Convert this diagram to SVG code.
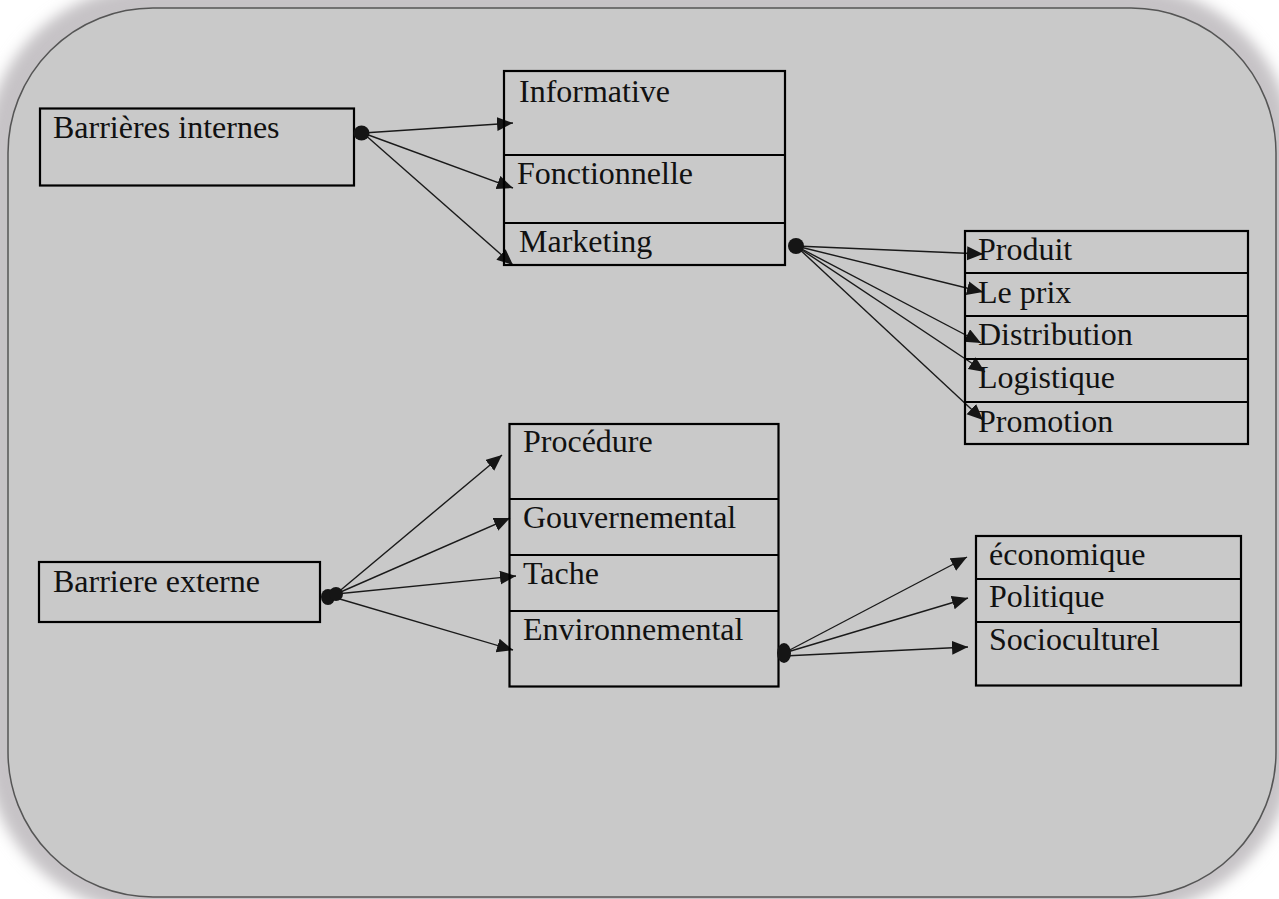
<svg xmlns="http://www.w3.org/2000/svg" width="1279" height="899" viewBox="0 0 1279 899">
<style>
.box{fill:none;stroke:#000;stroke-width:2.2}
.t{font-family:"Liberation Serif","Times New Roman",serif;font-size:32px;fill:#111}
.c{stroke:#1a1a1a;stroke-width:1.4;fill:none;marker-end:url(#ah)}
.dot{fill:#151515}
</style>
<defs>
<filter id="blur" x="-10%" y="-10%" width="120%" height="120%"><feGaussianBlur stdDeviation="7"/></filter>
<marker id="ah" markerUnits="userSpaceOnUse" markerWidth="18" markerHeight="16" refX="16" refY="7" orient="auto">
<path d="M0,0 L16,7 L0,14 Z" fill="#151515"/>
</marker>
</defs>
<rect x="0" y="0" width="1279" height="899" fill="#fff"/>
<rect x="-14" y="-14" width="1307" height="927" rx="165" fill="#c6c3c6" filter="url(#blur)"/>
<rect x="8" y="8" width="1268" height="889" rx="145" fill="#c9c9c9" stroke="#555" stroke-width="1.5"/>

<g id="connectors">
<path class="c" d="M363,133 L513,123"/>
<path class="c" d="M363,133 L513,188"/>
<path class="c" d="M363,133 L513,265"/>
<path class="c" d="M796,246 L983,254"/>
<path class="c" d="M796,246 L983,292"/>
<path class="c" d="M796,246 L981,343"/>
<path class="c" d="M796,246 L985,372"/>
<path class="c" d="M796,246 L983,420"/>
<path class="c" d="M336,594 L502,455"/>
<path class="c" d="M336,594 L510,518"/>
<path class="c" d="M336,594 L516,576"/>
<path class="c" d="M333,597 L513,650"/>
<path class="c" d="M784,653 L967,557"/>
<path class="c" d="M784,653 L968,598"/>
<path class="c" d="M784,656 L968,647"/>
</g>

<g id="barrieres-internes">
<rect class="box" x="40" y="108.5" width="314" height="77"/>
<text class="t" x="53" y="138">Barrières internes</text>
<ellipse class="dot" cx="361.5" cy="133" rx="8" ry="7.5"/>
</g>

<g id="interne-types">
<rect class="box" x="504" y="71" width="281" height="194"/>
<line class="box" x1="504" y1="155" x2="785" y2="155"/>
<line class="box" x1="504" y1="223" x2="785" y2="223"/>
<text class="t" x="519" y="101.5">Informative</text>
<text class="t" x="517" y="184">Fonctionnelle</text>
<text class="t" x="519" y="252">Marketing</text>
<ellipse class="dot" cx="796" cy="246" rx="8" ry="8"/>
</g>

<g id="marketing-mix">
<rect class="box" x="965" y="231" width="283" height="213"/>
<line class="box" x1="965" y1="273" x2="1248" y2="273"/>
<line class="box" x1="965" y1="316" x2="1248" y2="316"/>
<line class="box" x1="965" y1="359" x2="1248" y2="359"/>
<line class="box" x1="965" y1="402" x2="1248" y2="402"/>
<text class="t" x="978" y="260">Produit</text>
<text class="t" x="978" y="303">Le prix</text>
<text class="t" x="978" y="345">Distribution</text>
<text class="t" x="978" y="388">Logistique</text>
<text class="t" x="978" y="431.5">Promotion</text>
</g>

<g id="barriere-externe">
<rect class="box" x="39" y="562" width="281" height="60"/>
<text class="t" x="53" y="592">Barriere externe</text>
<ellipse class="dot" cx="328" cy="597" rx="7" ry="8"/>
<ellipse class="dot" cx="336" cy="594" rx="7" ry="7"/>
</g>

<g id="externe-types">
<rect class="box" x="509.5" y="424" width="269" height="262.5"/>
<line class="box" x1="509.5" y1="499" x2="778.5" y2="499"/>
<line class="box" x1="509.5" y1="555" x2="778.5" y2="555"/>
<line class="box" x1="509.5" y1="611" x2="778.5" y2="611"/>
<text class="t" x="523" y="452">Procédure</text>
<text class="t" x="523" y="528">Gouvernemental</text>
<text class="t" x="523" y="584">Tache</text>
<text class="t" x="523" y="640">Environnemental</text>
<ellipse class="dot" cx="784" cy="653" rx="7" ry="10"/>
</g>

<g id="environnement">
<rect class="box" x="976" y="536" width="265" height="149.5"/>
<line class="box" x1="976" y1="579" x2="1241" y2="579"/>
<line class="box" x1="976" y1="622" x2="1241" y2="622"/>
<text class="t" x="989" y="565">économique</text>
<text class="t" x="989" y="607">Politique</text>
<text class="t" x="989" y="650">Socioculturel</text>
</g>
</svg>
